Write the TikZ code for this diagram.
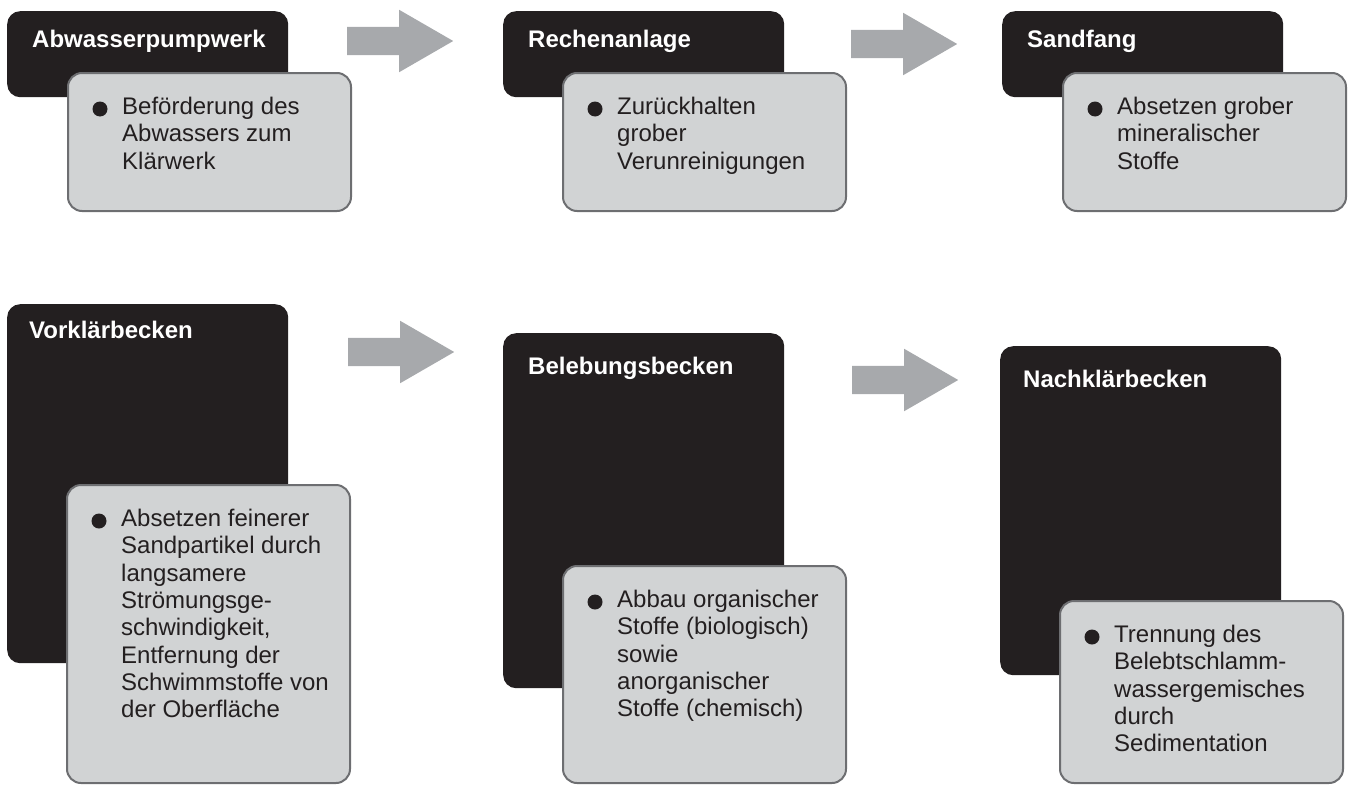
\documentclass[tikz,border=0pt]{standalone}
\usepackage{fontspec}
\setmainfont{Liberation Sans}
\usepackage{xcolor}
\usepackage{tikz}
\usetikzlibrary{positioning,shapes.arrows}
\definecolor{stageblack}{RGB}{35,31,32}
\definecolor{infofill}{RGB}{209,211,212}
\definecolor{infoline}{RGB}{109,110,113}
\definecolor{flowgrey}{RGB}{167,169,172}
\tikzstyle{stage} = [fill=stageblack, rounded corners=13pt, anchor=north west, minimum width=281pt, inner sep=0pt]
\tikzstyle{stagetitle} = [anchor=base west, inner sep=0pt, text=white, font=\fontsize{24}{27}\selectfont\bfseries]
\tikzstyle{info} = [fill=infofill, draw=infoline, line width=2pt, rounded corners=14pt, anchor=north west, minimum width=283pt, inner sep=0pt]
\tikzstyle{infotext} = [anchor=north west, inner sep=0pt, align=left, text=stageblack, font=\fontsize{24}{27.3}\selectfont]
\tikzstyle{flow} = [single arrow, fill=flowgrey, anchor=west, inner xsep=0pt, inner ysep=14pt, minimum height=106pt, single arrow head extend=17pt, single arrow tip angle=60]

\begin{document}
\begin{tikzpicture}[x=1pt, y=-1pt]
		\useasboundingbox (0,0) rectangle (1351,784);
		% obere Reihe
		\node [stage, minimum height=86pt] (pump) at (7,11) {};
		\node [stage, minimum height=86pt] (rechen) at (503,11) {};
		\node [stage, minimum height=86pt] (sand) at (1002,11) {};
		\node [stagetitle] (pumptitle) at ([shift={(25,37)}]pump.north west) {Abwasserpumpwerk};
		\node [stagetitle] (rechentitle) at ([shift={(25,37)}]rechen.north west) {Rechenanlage};
		\node [stagetitle] (sandtitle) at ([shift={(25,37)}]sand.north west) {Sandfang};
		
		\node [info, minimum height=138pt] (pumpinfo) at ([shift={(60,61)}]pump.north west) {};
		\node [info, minimum height=138pt] (recheninfo) at ([shift={(59,61)}]rechen.north west) {};
		\node [info, minimum height=138pt] (sandinfo) at ([shift={(60,61)}]sand.north west) {};
		
		% untere Reihe
		\node [stage, minimum height=359pt] (vorklaer) at (7,304) {};
		\node [stage, minimum height=355pt] (belebung) at (503,333) {};
		\node [stage, minimum height=329pt] (nachklaer) at (1000,346) {};
		\node [stagetitle] (vorklaertitle) at ([shift={(22,34)}]vorklaer.north west) {Vorklärbecken};
		\node [stagetitle] (belebungtitle) at ([shift={(25,41)}]belebung.north west) {Belebungsbecken};
		\node [stagetitle] (nachklaertitle) at ([shift={(23,41)}]nachklaer.north west) {Nachklärbecken};
		
		\node [info, minimum height=298pt] (vorklaerinfo) at ([shift={(59,180)}]vorklaer.north west) {};
		\node [info, minimum height=217pt] (belebunginfo) at ([shift={(59,232)}]belebung.north west) {};
		\node [info, minimum height=182pt] (nachklaerinfo) at ([shift={(59,254)}]nachklaer.north west) {};
		
		% Stichpunkte
		\foreach \ibox in {pumpinfo,recheninfo,sandinfo,vorklaerinfo,belebunginfo,nachklaerinfo}
			\fill [stageblack] ([shift={(33,37)}]\ibox.north west) circle (7.5pt);
		\node [infotext] (pumptext) at ([shift={(55,25)}]pumpinfo.north west) {Beförderung des\\Abwassers zum\\Klärwerk};
		\node [infotext] (rechentext) at ([shift={(55,25)}]recheninfo.north west) {Zurückhalten\\grober\\Verunreinigungen};
		\node [infotext] (sandtext) at ([shift={(55,25)}]sandinfo.north west) {Absetzen grober\\mineralischer\\Stoffe};
		\node [infotext] (vorklaertext) at ([shift={(55,25)}]vorklaerinfo.north west) {Absetzen feinerer\\Sandpartikel durch\\langsamere\\Strömungsge-\\schwindigkeit,\\Entfernung der\\Schwimmstoffe von\\der Oberfläche};
		\node [infotext] (belebungtext) at ([shift={(55,25)}]belebunginfo.north west) {Abbau organischer\\Stoffe (biologisch)\\sowie\\anorganischer\\Stoffe (chemisch)};
		\node [infotext] (nachklaertext) at ([shift={(55,25)}]nachklaerinfo.north west) {Trennung des\\Belebtschlamm-\\wassergemisches\\durch\\Sedimentation};
		
		% Pfeile
		\node [flow] (flowa) at (347,41) {};
		\node [flow] (flowb) at (851,44) {};
		\node [flow] (flowc) at (348,352) {};
		\node [flow] (flowd) at (852,380) {};
	\end{tikzpicture}
\end{document}
